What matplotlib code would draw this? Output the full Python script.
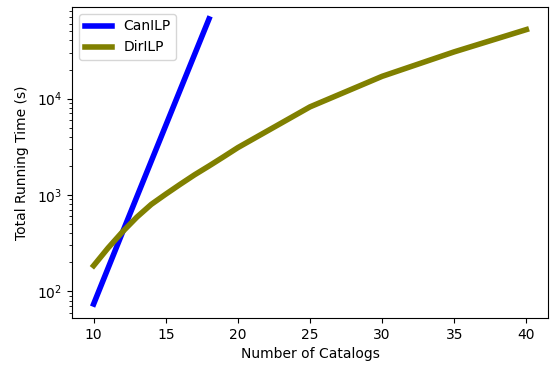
import numpy as np
import matplotlib.pyplot as plt

# data
can_x = [10, 12, 14, 16, 18]
can_t = [74, 410, 2250, 12300, 67000]

dir_x = [10, 11, 12, 13, 14, 15, 16, 17, 18, 19, 20, 25, 30, 35, 40]
dir_t = [185, 282, 415, 590, 800, 1020, 1290, 1620, 2000, 2485, 3100,
         8200, 17000, 30500, 51900]

fig = plt.figure(figsize=(5.51, 3.66), dpi=100)
ax = fig.add_axes([72 / 551, 1 - 318 / 366, 476 / 551, 311 / 366])

ax.plot(can_x, can_t, color='blue', lw=4, label='CanILP')
ax.plot(dir_x, dir_t, color='olive', lw=4, label='DirILP')
ax.set_yscale('log')
ax.set_ylim(53, 89000)
ax.set_xticks([10, 15, 20, 25, 30, 35, 40])
ax.set_xlabel('Number of Catalogs')
ax.set_ylabel('Total Running Time (s)', labelpad=6)
ax.legend(loc='upper left')

fig.savefig('out.png', dpi=100)
